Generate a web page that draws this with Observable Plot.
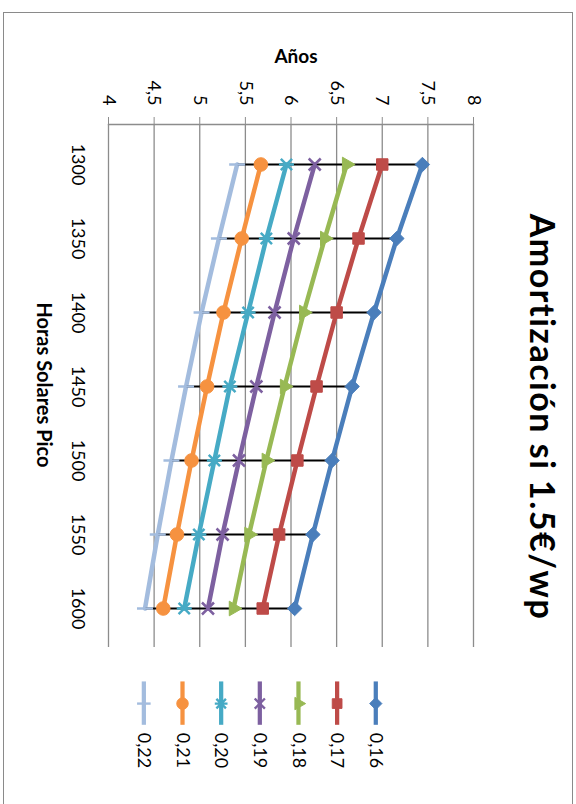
<!DOCTYPE html>
<html><head><meta charset="utf-8">
<script src="https://cdn.jsdelivr.net/npm/d3@7"></script>
<script src="https://cdn.jsdelivr.net/npm/@observablehq/plot@0.6"></script>
<style>
html,body{margin:0;padding:0;background:#fff;overflow:hidden;width:576px;height:804px;}
#wrap{position:absolute;left:0;top:0;width:804px;height:576px;transform-origin:0 0;transform:translate(576px,0) rotate(90deg);font-family:Lato,sans-serif;}
#frame{position:absolute;left:12px;top:3px;width:800px;height:568px;border:1.5px solid #8a8a8a;}
#chart{position:absolute;left:0;top:0;}
#legend{position:absolute;left:672px;top:179px;}
#overlay{position:absolute;left:0;top:0;}
</style></head><body>
<div id="wrap">
  <div id="frame"></div>
  <div id="chart"></div>
  <div id="legend"></div>
  <svg id="overlay" width="804" height="576" font-family="Lato, sans-serif" fill="#000">
    <text x="417" y="46" text-anchor="middle" font-size="34" font-weight="bold" letter-spacing="1.5">Amortización si 1.5€/wp</text>
    <text transform="translate(63,280) rotate(-90)" text-anchor="middle" font-size="19" font-weight="bold">Años</text>
    <text x="385" y="539" text-anchor="middle" font-size="20" font-weight="bold">Horas Solares Pico</text>
  </svg>
</div>
<script>
// Categories (Horas Solares Pico) and series (€/kWh)
const hours = [1300, 1350, 1400, 1450, 1500, 1550, 1600];
const seriesNames = ["0,16", "0,17", "0,18", "0,19", "0,20", "0,21", "0,22"];
const s016 = [7.44, 7.16, 6.91, 6.67, 6.45, 6.24, 6.04];
const s017 = [7.00, 6.74, 6.50, 6.28, 6.07, 5.87, 5.69];
const s018 = [6.61, 6.37, 6.14, 5.93, 5.73, 5.54, 5.37];
const s019 = [6.26, 6.03, 5.82, 5.62, 5.43, 5.25, 5.09];
const s020 = [5.95, 5.73, 5.53, 5.33, 5.16, 4.99, 4.83];
const s021 = [5.67, 5.46, 5.26, 5.08, 4.91, 4.75, 4.60];
const s022 = [5.41, 5.21, 5.02, 4.85, 4.69, 4.54, 4.40];
const yTicks = [4, 4.5, 5, 5.5, 6, 6.5, 7, 7.5, 8];
const colors = ["#4A7EBB", "#BE4B48", "#98B954", "#7D60A0", "#46AAC5", "#F69240", "#A3BCDE"];

const values = [s016, s017, s018, s019, s020, s021, s022];

// custom symbols
const symTimes = {draw(ctx, size) {const r = Math.sqrt(size / Math.PI) * 0.8; ctx.moveTo(-r, -r); ctx.lineTo(r, r); ctx.moveTo(-r, r); ctx.lineTo(r, -r);}};
const symStar = {draw(ctx, size) {const r = Math.sqrt(size / Math.PI); const a = r * 0.75; ctx.moveTo(-a, -a); ctx.lineTo(a, a); ctx.moveTo(-a, a); ctx.lineTo(a, -a); ctx.moveTo(0, -r); ctx.lineTo(0, r);}};
const symBar = {draw(ctx, size) {const r = Math.sqrt(size / Math.PI); ctx.moveTo(0, -r); ctx.lineTo(0, r);}};
const markerDefs = [
  {symbol: "diamond2", filled: true, r: 6.5},
  {symbol: "square2", filled: true, r: 7.3},
  {symbol: "triangle2", filled: true, r: 7},
  {symbol: symTimes, filled: false, r: 7.5},
  {symbol: symStar, filled: false, r: 7.5},
  {symbol: "circle", filled: true, r: 6.8},
  {symbol: symBar, filled: false, r: 8}
];

const data = [];
seriesNames.forEach((name, i) => hours.forEach((h, j) => data.push({series: name, h, v: values[i][j]})));
const hilo = hours.map((h, j) => ({h, lo: d3.min(values, s => s[j]), hi: d3.max(values, s => s[j])}));
const fmt = d => String(d).replace(".", ",");

const lineMarks = seriesNames.map((name, i) =>
  Plot.line(data.filter(d => d.series === name), {x: "h", y: "v", stroke: colors[i], strokeWidth: 4.5, strokeLinejoin: "round"}));
const dotMarks = seriesNames.map((name, i) => {
  const m = markerDefs[i];
  return Plot.dot(data.filter(d => d.series === name), {
    x: "h", y: "v", symbol: m.symbol, r: m.r,
    fill: m.filled ? colors[i] : "none", stroke: colors[i], strokeWidth: m.filled ? 1 : 2.5
  });
});

const chart = Plot.plot({
  width: 804, height: 576,
  marginLeft: 124, marginRight: 157, marginTop: 102, marginBottom: 109,
  x: {type: "point", domain: hours, padding: 0.5},
  y: {domain: [4, 8]},
  style: {fontFamily: "Lato, sans-serif", fontSize: "18px", background: "transparent", color: "#000", overflow: "visible"},
  marks: [
    Plot.gridY(yTicks, {stroke: "#8c8c8c", strokeOpacity: 1, strokeWidth: 1.3}),
    Plot.frame({anchor: "left", stroke: "#8c8c8c", strokeWidth: 1.3}),
    Plot.axisY({ticks: yTicks, tickFormat: fmt, tickSize: 7, tickPadding: 12, stroke: "#8c8c8c", fill: "#000", label: null}),
    Plot.axisX({ticks: hours, tickFormat: d => String(d), tickSize: 0, tickPadding: 24, fill: "#000", label: null}),
    ...lineMarks,
    Plot.ruleX(hilo, {x: "h", y1: "lo", y2: "hi", stroke: "#000", strokeWidth: 1.8}),
    ...dotMarks
  ]
});
document.getElementById("chart").appendChild(chart);

// legend
const legData = seriesNames.map((name, i) => ({name, i}));
const legend = Plot.plot({
  width: 140, height: 290,
  marginLeft: 10, marginRight: 84, marginTop: 20, marginBottom: 20,
  x: {domain: [0, 1], axis: null},
  y: {type: "point", domain: seriesNames, padding: 0, axis: null},
  style: {fontFamily: "Lato, sans-serif", fontSize: "19px", background: "transparent", color: "#000", overflow: "visible"},
  marks: [
    ...legData.map(d => Plot.ruleY([d.name], {x1: 0, x2: 1, stroke: colors[d.i], strokeWidth: 4.5})),
    ...legData.map(d => {
      const m = markerDefs[d.i];
      return Plot.dot([d], {x: () => 0.5, y: "name", symbol: m.symbol, r: m.r * 0.9,
        fill: m.filled ? colors[d.i] : "none", stroke: colors[d.i], strokeWidth: m.filled ? 1 : 2.5});
    }),
    Plot.text(legData, {x: () => 1, y: "name", text: "name", dx: 8, textAnchor: "start", fill: "#000"})
  ]
});
document.getElementById("legend").appendChild(legend);
</script>
</body></html>
